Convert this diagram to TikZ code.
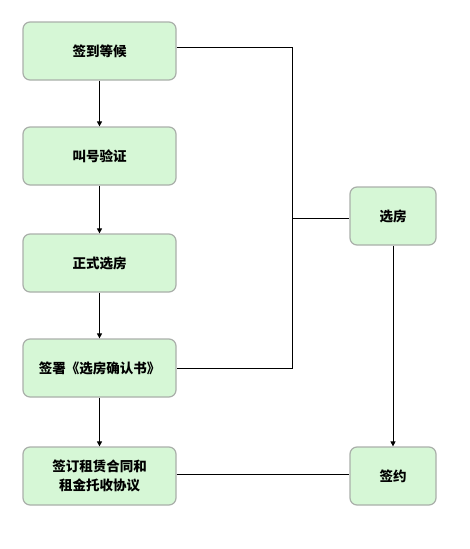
\documentclass[tikz,border=0pt]{standalone}
\usepackage{fontspec}
\newfontfamily\cjk{Noto Sans CJK SC}
\definecolor{boxgreen}{RGB}{214,247,214}
\definecolor{boxgray}{RGB}{170,175,170}
\tikzset{
  stepbox/.style={draw=boxgray, line width=1.2pt, fill=boxgreen, rounded corners=7pt,
    minimum width=153pt, minimum height=58pt, align=center, font=\cjk\bfseries\fontsize{13.5pt}{19pt}\selectfont},
  sidebox/.style={stepbox, minimum width=86pt},
  link/.style={line width=0.8pt},
  arr/.style={link, -{Triangle[length=5pt,width=5pt]}}
}
\usetikzlibrary{arrows.meta}
\begin{document}
\begin{tikzpicture}[x=1pt, y=-1pt]
\useasboundingbox (0,0) rectangle (469,549);
\node [stepbox] (sign) at (99.5,51) {签到等候};
\node [stepbox] (call) at (99.5,156) {叫号验证};
\node [stepbox] (pick) at (99.5,263) {正式选房};
\node [stepbox] (confirm) at (99.5,368) {签署《选房确认书》};
\node [stepbox] (lease) at (99.5,476) {签订租赁合同和\\租金托收协议};
\node [sidebox] (choose) at (393,216) {选房};
\node [sidebox] (contract) at (393,476) {签约};
% left column
\draw [arr] (sign) -- (call);
\draw [arr] (call) -- (pick);
\draw [arr] (pick) -- (confirm);
\draw [arr] (confirm) -- (lease);
% right side
\coordinate (join) at (292,218);
\coordinate (top) at (292,47);
\draw [link] (sign.east |- top) -- (top) -- (confirm.east -| join) -- (confirm.east);
\draw [link] (join) -- (join -| choose.west);
\draw [arr] (choose) -- (contract);
\draw [link] (lease.east |- 0,474) -- (contract.west |- 0,474);
\end{tikzpicture}
\end{document}
